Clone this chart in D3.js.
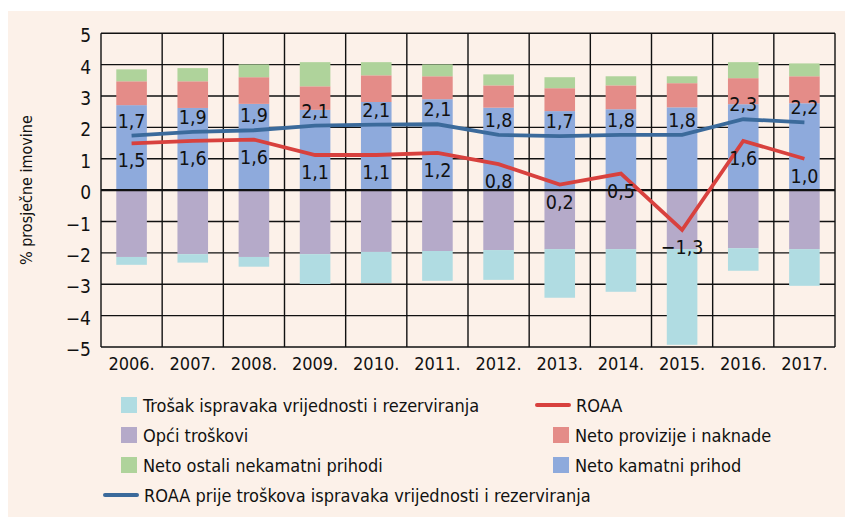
<!DOCTYPE html>
<html>
<head>
<meta charset="utf-8">
<script src="https://cdn.jsdelivr.net/npm/d3@7"></script>
<style>
  body { margin: 0; background: #fff; }
  svg { display: block; }
</style>
</head>
<body>
<div class="chart"></div>
<script>
const years = ["2006.", "2007.", "2008.", "2009.", "2010.", "2011.", "2012.", "2013.", "2014.", "2015.", "2016.", "2017."];

// stacked components, % of average assets
const netoKamatni = [2.71, 2.62, 2.75, 2.56, 2.81, 2.90, 2.63, 2.52, 2.58, 2.64, 2.74, 2.77];
const netoProvizije = [0.76, 0.85, 0.85, 0.75, 0.85, 0.73, 0.71, 0.73, 0.76, 0.77, 0.83, 0.86];
const netoOstali = [0.38, 0.42, 0.41, 0.77, 0.42, 0.38, 0.35, 0.35, 0.29, 0.22, 0.51, 0.41];
const opciTroskovi = [-2.13, -2.04, -2.13, -2.04, -1.97, -1.94, -1.91, -1.88, -1.88, -1.88, -1.85, -1.88];
const trosakIspravaka = [-0.25, -0.27, -0.31, -0.95, -0.99, -0.95, -0.95, -1.55, -1.36, -3.05, -0.72, -1.17];

// lines
const roaa = [1.49, 1.57, 1.61, 1.12, 1.12, 1.19, 0.83, 0.18, 0.53, -1.27, 1.57, 1.0];
const roaaPrije = [1.74, 1.86, 1.91, 2.06, 2.09, 2.1, 1.76, 1.72, 1.76, 1.76, 2.26, 2.16];

const yTicks = [-5, -4, -3, -2, -1, 0, 1, 2, 3, 4, 5];

const series = [
  { key: "kamatni", values: netoKamatni, color: "#8eaadc", label: "Neto kamatni prihod" },
  { key: "provizije", values: netoProvizije, color: "#e48c88", label: "Neto provizije i naknade" },
  { key: "ostali", values: netoOstali, color: "#afd39b", label: "Neto ostali nekamatni prihodi" },
  { key: "opci", values: opciTroskovi, color: "#b5aac9", label: "Opći troškovi" },
  { key: "trosak", values: trosakIspravaka, color: "#b0dce2", label: "Trošak ispravaka vrijednosti i rezerviranja" },
];

const font = "'Liberation Sans Narrow', 'DejaVu Sans Condensed', 'Roboto', sans-serif";
const fmt = (v) => d3.format(".1f")(v).replace(".", ",").replace("-", "\u2212");

const W = 845, H = 517;
const plot = { left: 101, right: 835, top: 33.3, bottom: 347 };

const svg = d3.select(".chart").append("svg").attr("width", W).attr("height", H);

// beige panel
svg.append("rect").attr("x", 8).attr("y", 11).attr("width", W - 8).attr("height", H - 11).attr("fill", "#fcf1e9");

const x = d3.scaleBand().domain(years).range([plot.left, plot.right]).paddingInner(0.5).paddingOuter(0.25);
const step = x.step();
const y = d3.scaleLinear().domain([-5, 5]).range([plot.bottom, plot.top]);

// grid
const grid = svg.append("g").attr("stroke", "#111").attr("stroke-width", 1.4);
grid.selectAll("line.h").data(yTicks).enter().append("line")
  .attr("x1", plot.left).attr("x2", plot.right)
  .attr("y1", (d) => y(d)).attr("y2", (d) => y(d));
grid.selectAll("line.v").data(d3.range(years.length + 1)).enter().append("line")
  .attr("x1", (i) => plot.left + i * step).attr("x2", (i) => plot.left + i * step)
  .attr("y1", plot.top).attr("y2", plot.bottom);

// stacked bars
const rows = years.map((yr, i) => {
  const r = { year: yr };
  series.forEach((s) => (r[s.key] = s.values[i]));
  return r;
});
const stacked = d3.stack().keys(series.map((s) => s.key)).offset(d3.stackOffsetDiverging)(rows);

stacked.forEach((layer, li) => {
  svg.append("g").attr("fill", series[li].color)
    .selectAll("rect").data(layer).enter().append("rect")
    .attr("x", (d) => x(d.data.year))
    .attr("width", x.bandwidth())
    .attr("y", (d) => y(Math.max(d[0], d[1])))
    .attr("height", (d) => Math.abs(y(d[0]) - y(d[1])));
});

// zero line
svg.append("line").attr("x1", plot.left).attr("x2", plot.right)
  .attr("y1", y(0)).attr("y2", y(0)).attr("stroke", "#111").attr("stroke-width", 2.4);

// lines
const cx = (i) => x(years[i]) + x.bandwidth() / 2;
const line = d3.line().x((d, i) => cx(i)).y((d) => y(d));

svg.append("path").datum(roaaPrije).attr("fill", "none").attr("stroke", "#3b6a9b")
  .attr("stroke-width", 3.8).attr("d", line);
svg.append("path").datum(roaa).attr("fill", "none").attr("stroke", "#d8413e")
  .attr("stroke-width", 3.8).attr("d", line);

// value labels
const labels = svg.append("g").attr("font-family", font).attr("font-size", 19.5)
  .attr("fill", "#111").attr("text-anchor", "middle");
labels.selectAll("text.p").data(roaaPrije).enter().append("text")
  .attr("x", (d, i) => cx(i)).attr("y", (d) => y(d) - 8).text(fmt);
labels.selectAll("text.r").data(roaa).enter().append("text")
  .attr("x", (d, i) => cx(i)).attr("y", (d) => y(d) + 24).text(fmt);

// axes labels
const yAxis = svg.append("g").attr("font-family", font).attr("font-size", 19).attr("fill", "#111");
yAxis.selectAll("text").data(yTicks).enter().append("text")
  .attr("x", 91).attr("y", (d) => y(d) + 9).attr("text-anchor", "end").text((d) => String(d).replace("-", "\u2212"));

svg.append("g").attr("font-family", font).attr("font-size", 18).attr("fill", "#111")
  .selectAll("text").data(years).enter().append("text")
  .attr("x", (d) => x(d) + x.bandwidth() / 2).attr("y", 370).attr("text-anchor", "middle").text((d) => d);

svg.append("text").attr("transform", `translate(32, ${(plot.top + plot.bottom) / 2}) rotate(-90)`)
  .attr("text-anchor", "middle").attr("font-family", font).attr("font-size", 16).attr("fill", "#111")
  .text("% prosječne imovine");

// legend
const legendItems = [
  { type: "box", color: series[4].color, label: series[4].label, x: 121, y: 405 },
  { type: "line", color: "#d8413e", label: "ROAA", x: 537, y: 405 },
  { type: "box", color: series[3].color, label: series[3].label, x: 121, y: 435 },
  { type: "box", color: series[1].color, label: series[1].label, x: 553, y: 435 },
  { type: "box", color: series[2].color, label: series[2].label, x: 121, y: 465 },
  { type: "box", color: series[0].color, label: series[0].label, x: 553, y: 465 },
  { type: "line", color: "#3b6a9b", label: "ROAA prije troškova ispravaka vrijednosti i rezerviranja", x: 105, y: 495 },
];
const lg = svg.append("g").attr("font-family", font).attr("font-size", 18).attr("fill", "#111");
legendItems.forEach((it) => {
  if (it.type === "box") {
    lg.append("rect").attr("x", it.x).attr("y", it.y - 8).attr("width", 16).attr("height", 16).attr("fill", it.color);
  } else {
    lg.append("line").attr("x1", it.x).attr("x2", it.x + 32).attr("y1", it.y).attr("y2", it.y)
      .attr("stroke", it.color).attr("stroke-width", 4).attr("stroke-linecap", "round");
  }
  const tx = it.type === "box" ? it.x + 22 : it.x + 39;
  lg.append("text").attr("x", tx).attr("y", it.y + 7).text(it.label);
});
</script>
</body>
</html>
